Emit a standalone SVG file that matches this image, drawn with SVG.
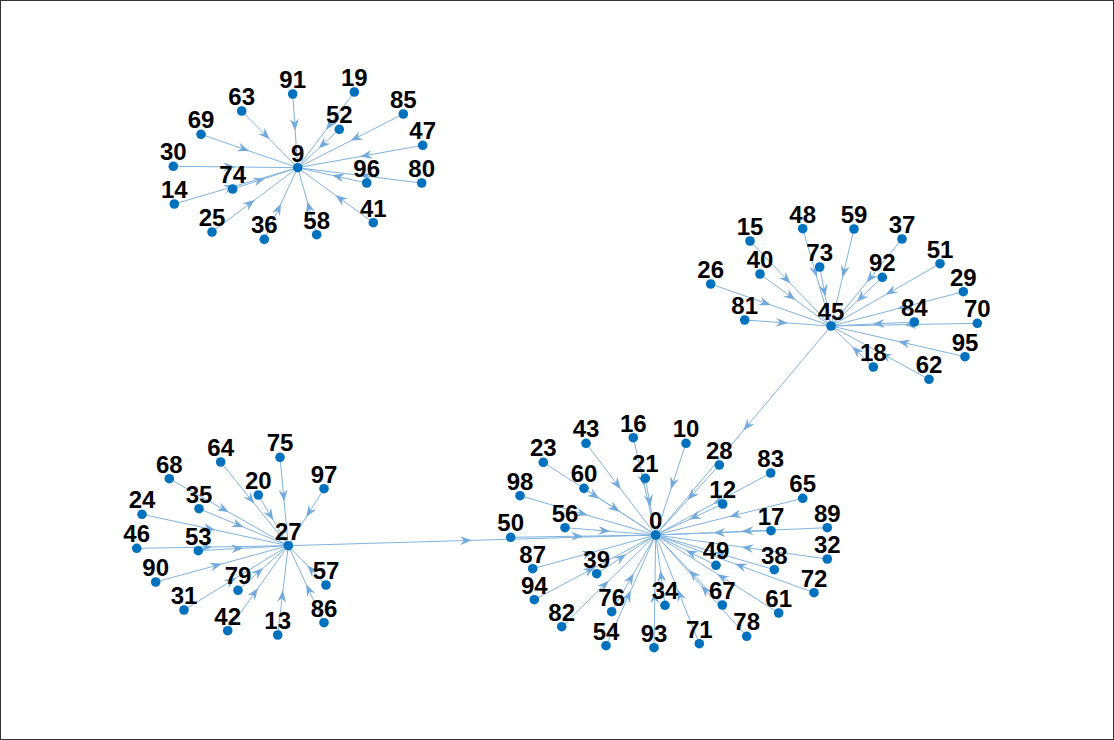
<svg xmlns="http://www.w3.org/2000/svg" width="1114" height="740" viewBox="0 0 1114 740">
<style>
.e{fill:none;stroke:#80B3DF;stroke-width:1;marker-mid:url(#ah)}
.n circle{fill:#0072BD}
.n text{font-family:"Liberation Sans",Arial,sans-serif;font-weight:bold;font-size:24px;text-anchor:middle;fill:#000}
</style>
<defs>
<marker id="ah" markerUnits="userSpaceOnUse" viewBox="-13 -6 14 12" refX="0" refY="0" markerWidth="14" markerHeight="12" orient="auto" overflow="visible">
<path d="M0,0 L-12,-4.5 L-8,0 L-12,4.5 Z" fill="#72AADB"/>
</marker>
</defs>
<rect x="0.5" y="0.5" width="1113" height="739" fill="#fff" stroke="#333" stroke-width="1"/>
<g id="edges">
<path class="e" d="M292.7,94 L295.2,130.85 L297.7,167.7"/>
<path class="e" d="M354.3,92 L326,129.85 L297.7,167.7"/>
<path class="e" d="M241.7,111 L269.7,139.35 L297.7,167.7"/>
<path class="e" d="M339.3,129.3 L318.5,148.5 L297.7,167.7"/>
<path class="e" d="M403.3,114 L350.5,140.85 L297.7,167.7"/>
<path class="e" d="M201,134.3 L249.35,151 L297.7,167.7"/>
<path class="e" d="M422.7,145.3 L360.2,156.5 L297.7,167.7"/>
<path class="e" d="M173.3,166.3 L235.5,167 L297.7,167.7"/>
<path class="e" d="M366.7,183 L332.2,175.35 L297.7,167.7"/>
<path class="e" d="M421.7,183 L359.7,175.35 L297.7,167.7"/>
<path class="e" d="M232.7,189 L265.2,178.35 L297.7,167.7"/>
<path class="e" d="M174.3,204 L236,185.85 L297.7,167.7"/>
<path class="e" d="M373.3,222.7 L335.5,195.2 L297.7,167.7"/>
<path class="e" d="M212,232 L254.85,199.85 L297.7,167.7"/>
<path class="e" d="M264.3,239.3 L281,203.5 L297.7,167.7"/>
<path class="e" d="M316.7,234.7 L307.2,201.2 L297.7,167.7"/>

<path class="e" d="M750,241 L790.5,283.5 L831,326"/>
<path class="e" d="M802.7,228.7 L816.85,277.35 L831,326"/>
<path class="e" d="M854,229 L842.5,277.5 L831,326"/>
<path class="e" d="M902,239 L866.5,282.5 L831,326"/>
<path class="e" d="M760,274 L795.5,300 L831,326"/>
<path class="e" d="M819.7,267 L825.35,296.5 L831,326"/>
<path class="e" d="M882.3,277.3 L856.65,301.65 L831,326"/>
<path class="e" d="M940,263.7 L885.5,294.85 L831,326"/>
<path class="e" d="M710.7,284 L770.85,305 L831,326"/>
<path class="e" d="M963.3,291.7 L897.15,308.85 L831,326"/>
<path class="e" d="M744.7,320 L787.85,323 L831,326"/>
<path class="e" d="M914.3,322 L872.65,324 L831,326"/>
<path class="e" d="M977.3,323.3 L904.15,324.65 L831,326"/>
<path class="e" d="M965,356.7 L898,341.35 L831,326"/>
<path class="e" d="M873.3,367 L852.15,346.5 L831,326"/>
<path class="e" d="M929,379.3 L880,352.65 L831,326"/>

<path class="e" d="M280,457.3 L284.15,501.5 L288.3,545.7"/>
<path class="e" d="M220.7,462 L254.5,503.85 L288.3,545.7"/>
<path class="e" d="M169.3,478.7 L228.8,512.2 L288.3,545.7"/>
<path class="e" d="M324,488.7 L306.15,517.2 L288.3,545.7"/>
<path class="e" d="M258.3,495 L273.3,520.35 L288.3,545.7"/>
<path class="e" d="M199,508.7 L243.65,527.2 L288.3,545.7"/>
<path class="e" d="M142,514.3 L215.15,530 L288.3,545.7"/>
<path class="e" d="M136.7,548.3 L212.5,547 L288.3,545.7"/>
<path class="e" d="M198.3,550.7 L243.3,548.2 L288.3,545.7"/>
<path class="e" d="M155.7,582 L222,563.85 L288.3,545.7"/>
<path class="e" d="M238,590.3 L263.15,568 L288.3,545.7"/>
<path class="e" d="M326,585 L307.15,565.35 L288.3,545.7"/>
<path class="e" d="M184,610 L236.15,577.85 L288.3,545.7"/>
<path class="e" d="M227.7,630.7 L258,588.2 L288.3,545.7"/>
<path class="e" d="M277.7,635 L283,590.35 L288.3,545.7"/>
<path class="e" d="M324,622.7 L306.15,584.2 L288.3,545.7"/>

<path class="e" d="M586,443.3 L620.85,489.15 L655.7,535"/>
<path class="e" d="M633.3,437.7 L644.5,486.35 L655.7,535"/>
<path class="e" d="M686,443.3 L670.85,489.15 L655.7,535"/>
<path class="e" d="M543.3,462.3 L599.5,498.65 L655.7,535"/>
<path class="e" d="M719.3,465 L687.5,500 L655.7,535"/>
<path class="e" d="M770.7,473 L713.2,504 L655.7,535"/>
<path class="e" d="M645.3,478.3 L650.5,506.65 L655.7,535"/>
<path class="e" d="M584,488.3 L619.85,511.65 L655.7,535"/>
<path class="e" d="M520,495.7 L587.85,515.35 L655.7,535"/>
<path class="e" d="M802.7,498.3 L729.2,516.65 L655.7,535"/>
<path class="e" d="M722.7,504 L689.2,519.5 L655.7,535"/>
<path class="e" d="M565,527.7 L610.35,531.35 L655.7,535"/>
<path class="e" d="M771,530.7 L713.35,532.85 L655.7,535"/>
<path class="e" d="M827.3,527.7 L741.5,531.35 L655.7,535"/>
<path class="e" d="M510.7,537.3 L583.2,536.15 L655.7,535"/>
<path class="e" d="M827.3,559 L741.5,547 L655.7,535"/>
<path class="e" d="M716,565.3 L685.85,550.15 L655.7,535"/>
<path class="e" d="M774.3,569.7 L715,552.35 L655.7,535"/>
<path class="e" d="M532.7,568.7 L594.2,551.85 L655.7,535"/>
<path class="e" d="M596.7,573.7 L626.2,554.35 L655.7,535"/>
<path class="e" d="M814,592.7 L734.85,563.85 L655.7,535"/>
<path class="e" d="M534.3,599.7 L595,567.35 L655.7,535"/>
<path class="e" d="M665,605.3 L660.35,570.15 L655.7,535"/>
<path class="e" d="M722.3,605 L689,570 L655.7,535"/>
<path class="e" d="M611.7,611.7 L633.7,573.35 L655.7,535"/>
<path class="e" d="M778.7,613 L717.2,574 L655.7,535"/>
<path class="e" d="M561.7,626.7 L608.7,580.85 L655.7,535"/>
<path class="e" d="M746.7,636.3 L701.2,585.65 L655.7,535"/>
<path class="e" d="M606,645.7 L630.85,590.35 L655.7,535"/>
<path class="e" d="M654,647.7 L654.85,591.35 L655.7,535"/>
<path class="e" d="M699.3,643.7 L677.5,589.35 L655.7,535"/>
<path class="e" d="M831,326 L743.35,430.5 L655.7,535"/>
<path class="e" d="M288.3,545.7 L472,540.35 L655.7,535"/>
</g>
<g id="nodes">
<g class="n" id="n9"><circle cx="297.7" cy="167.7" r="4.8"/><text x="297.7" y="161.5">9</text></g>
<g class="n" id="n91"><circle cx="292.7" cy="94" r="4.8"/><text x="292.7" y="87.8">91</text></g>
<g class="n" id="n19"><circle cx="354.3" cy="92" r="4.8"/><text x="354.3" y="85.8">19</text></g>
<g class="n" id="n63"><circle cx="241.7" cy="111" r="4.8"/><text x="241.7" y="104.8">63</text></g>
<g class="n" id="n52"><circle cx="339.3" cy="129.3" r="4.8"/><text x="339.3" y="123.1">52</text></g>
<g class="n" id="n85"><circle cx="403.3" cy="114" r="4.8"/><text x="403.3" y="107.8">85</text></g>
<g class="n" id="n69"><circle cx="201" cy="134.3" r="4.8"/><text x="201" y="128.1">69</text></g>
<g class="n" id="n47"><circle cx="422.7" cy="145.3" r="4.8"/><text x="422.7" y="139.1">47</text></g>
<g class="n" id="n30"><circle cx="173.3" cy="166.3" r="4.8"/><text x="173.3" y="160.1">30</text></g>
<g class="n" id="n96"><circle cx="366.7" cy="183" r="4.8"/><text x="366.7" y="176.8">96</text></g>
<g class="n" id="n80"><circle cx="421.7" cy="183" r="4.8"/><text x="421.7" y="176.8">80</text></g>
<g class="n" id="n74"><circle cx="232.7" cy="189" r="4.8"/><text x="232.7" y="182.8">74</text></g>
<g class="n" id="n14"><circle cx="174.3" cy="204" r="4.8"/><text x="174.3" y="197.8">14</text></g>
<g class="n" id="n41"><circle cx="373.3" cy="222.7" r="4.8"/><text x="373.3" y="216.5">41</text></g>
<g class="n" id="n25"><circle cx="212" cy="232" r="4.8"/><text x="212" y="225.8">25</text></g>
<g class="n" id="n36"><circle cx="264.3" cy="239.3" r="4.8"/><text x="264.3" y="233.1">36</text></g>
<g class="n" id="n58"><circle cx="316.7" cy="234.7" r="4.8"/><text x="316.7" y="228.5">58</text></g>

<g class="n" id="n45"><circle cx="831" cy="326" r="4.8"/><text x="831" y="319.8">45</text></g>
<g class="n" id="n15"><circle cx="750" cy="241" r="4.8"/><text x="750" y="234.8">15</text></g>
<g class="n" id="n48"><circle cx="802.7" cy="228.7" r="4.8"/><text x="802.7" y="222.5">48</text></g>
<g class="n" id="n59"><circle cx="854" cy="229" r="4.8"/><text x="854" y="222.8">59</text></g>
<g class="n" id="n37"><circle cx="902" cy="239" r="4.8"/><text x="902" y="232.8">37</text></g>
<g class="n" id="n40"><circle cx="760" cy="274" r="4.8"/><text x="760" y="267.8">40</text></g>
<g class="n" id="n73"><circle cx="819.7" cy="267" r="4.8"/><text x="819.7" y="260.8">73</text></g>
<g class="n" id="n92"><circle cx="882.3" cy="277.3" r="4.8"/><text x="882.3" y="271.1">92</text></g>
<g class="n" id="n51"><circle cx="940" cy="263.7" r="4.8"/><text x="940" y="257.5">51</text></g>
<g class="n" id="n26"><circle cx="710.7" cy="284" r="4.8"/><text x="710.7" y="277.8">26</text></g>
<g class="n" id="n29"><circle cx="963.3" cy="291.7" r="4.8"/><text x="963.3" y="285.5">29</text></g>
<g class="n" id="n81"><circle cx="744.7" cy="320" r="4.8"/><text x="744.7" y="313.8">81</text></g>
<g class="n" id="n84"><circle cx="914.3" cy="322" r="4.8"/><text x="914.3" y="315.8">84</text></g>
<g class="n" id="n70"><circle cx="977.3" cy="323.3" r="4.8"/><text x="977.3" y="317.1">70</text></g>
<g class="n" id="n95"><circle cx="965" cy="356.7" r="4.8"/><text x="965" y="350.5">95</text></g>
<g class="n" id="n18"><circle cx="873.3" cy="367" r="4.8"/><text x="873.3" y="360.8">18</text></g>
<g class="n" id="n62"><circle cx="929" cy="379.3" r="4.8"/><text x="929" y="373.1">62</text></g>

<g class="n" id="n27"><circle cx="288.3" cy="545.7" r="4.8"/><text x="288.3" y="539.5">27</text></g>
<g class="n" id="n75"><circle cx="280" cy="457.3" r="4.8"/><text x="280" y="451.1">75</text></g>
<g class="n" id="n64"><circle cx="220.7" cy="462" r="4.8"/><text x="220.7" y="455.8">64</text></g>
<g class="n" id="n68"><circle cx="169.3" cy="478.7" r="4.8"/><text x="169.3" y="472.5">68</text></g>
<g class="n" id="n97"><circle cx="324" cy="488.7" r="4.8"/><text x="324" y="482.5">97</text></g>
<g class="n" id="n20"><circle cx="258.3" cy="495" r="4.8"/><text x="258.3" y="488.8">20</text></g>
<g class="n" id="n35"><circle cx="199" cy="508.7" r="4.8"/><text x="199" y="502.5">35</text></g>
<g class="n" id="n24"><circle cx="142" cy="514.3" r="4.8"/><text x="142" y="508.1">24</text></g>
<g class="n" id="n46"><circle cx="136.7" cy="548.3" r="4.8"/><text x="136.7" y="542.1">46</text></g>
<g class="n" id="n53"><circle cx="198.3" cy="550.7" r="4.8"/><text x="198.3" y="544.5">53</text></g>
<g class="n" id="n90"><circle cx="155.7" cy="582" r="4.8"/><text x="155.7" y="575.8">90</text></g>
<g class="n" id="n79"><circle cx="238" cy="590.3" r="4.8"/><text x="238" y="584.1">79</text></g>
<g class="n" id="n57"><circle cx="326" cy="585" r="4.8"/><text x="326" y="578.8">57</text></g>
<g class="n" id="n31"><circle cx="184" cy="610" r="4.8"/><text x="184" y="603.8">31</text></g>
<g class="n" id="n42"><circle cx="227.7" cy="630.7" r="4.8"/><text x="227.7" y="624.5">42</text></g>
<g class="n" id="n13"><circle cx="277.7" cy="635" r="4.8"/><text x="277.7" y="628.8">13</text></g>
<g class="n" id="n86"><circle cx="324" cy="622.7" r="4.8"/><text x="324" y="616.5">86</text></g>

<g class="n" id="n0"><circle cx="655.7" cy="535" r="4.8"/><text x="655.7" y="528.8">0</text></g>
<g class="n" id="n43"><circle cx="586" cy="443.3" r="4.8"/><text x="586" y="437.1">43</text></g>
<g class="n" id="n16"><circle cx="633.3" cy="437.7" r="4.8"/><text x="633.3" y="431.5">16</text></g>
<g class="n" id="n10"><circle cx="686" cy="443.3" r="4.8"/><text x="686" y="437.1">10</text></g>
<g class="n" id="n23"><circle cx="543.3" cy="462.3" r="4.8"/><text x="543.3" y="456.1">23</text></g>
<g class="n" id="n28"><circle cx="719.3" cy="465" r="4.8"/><text x="719.3" y="458.8">28</text></g>
<g class="n" id="n83"><circle cx="770.7" cy="473" r="4.8"/><text x="770.7" y="466.8">83</text></g>
<g class="n" id="n21"><circle cx="645.3" cy="478.3" r="4.8"/><text x="645.3" y="472.1">21</text></g>
<g class="n" id="n60"><circle cx="584" cy="488.3" r="4.8"/><text x="584" y="482.1">60</text></g>
<g class="n" id="n98"><circle cx="520" cy="495.7" r="4.8"/><text x="520" y="489.5">98</text></g>
<g class="n" id="n65"><circle cx="802.7" cy="498.3" r="4.8"/><text x="802.7" y="492.1">65</text></g>
<g class="n" id="n12"><circle cx="722.7" cy="504" r="4.8"/><text x="722.7" y="497.8">12</text></g>
<g class="n" id="n56"><circle cx="565" cy="527.7" r="4.8"/><text x="565" y="521.5">56</text></g>
<g class="n" id="n17"><circle cx="771" cy="530.7" r="4.8"/><text x="771" y="524.5">17</text></g>
<g class="n" id="n89"><circle cx="827.3" cy="527.7" r="4.8"/><text x="827.3" y="521.5">89</text></g>
<g class="n" id="n50"><circle cx="510.7" cy="537.3" r="4.8"/><text x="510.7" y="531.1">50</text></g>
<g class="n" id="n32"><circle cx="827.3" cy="559" r="4.8"/><text x="827.3" y="552.8">32</text></g>
<g class="n" id="n49"><circle cx="716" cy="565.3" r="4.8"/><text x="716" y="559.1">49</text></g>
<g class="n" id="n38"><circle cx="774.3" cy="569.7" r="4.8"/><text x="774.3" y="563.5">38</text></g>
<g class="n" id="n87"><circle cx="532.7" cy="568.7" r="4.8"/><text x="532.7" y="562.5">87</text></g>
<g class="n" id="n39"><circle cx="596.7" cy="573.7" r="4.8"/><text x="596.7" y="567.5">39</text></g>
<g class="n" id="n72"><circle cx="814" cy="592.7" r="4.8"/><text x="814" y="586.5">72</text></g>
<g class="n" id="n94"><circle cx="534.3" cy="599.7" r="4.8"/><text x="534.3" y="593.5">94</text></g>
<g class="n" id="n34"><circle cx="665" cy="605.3" r="4.8"/><text x="665" y="599.1">34</text></g>
<g class="n" id="n67"><circle cx="722.3" cy="605" r="4.8"/><text x="722.3" y="598.8">67</text></g>
<g class="n" id="n76"><circle cx="611.7" cy="611.7" r="4.8"/><text x="611.7" y="605.5">76</text></g>
<g class="n" id="n61"><circle cx="778.7" cy="613" r="4.8"/><text x="778.7" y="606.8">61</text></g>
<g class="n" id="n82"><circle cx="561.7" cy="626.7" r="4.8"/><text x="561.7" y="620.5">82</text></g>
<g class="n" id="n78"><circle cx="746.7" cy="636.3" r="4.8"/><text x="746.7" y="630.1">78</text></g>
<g class="n" id="n54"><circle cx="606" cy="645.7" r="4.8"/><text x="606" y="639.5">54</text></g>
<g class="n" id="n93"><circle cx="654" cy="647.7" r="4.8"/><text x="654" y="641.5">93</text></g>
<g class="n" id="n71"><circle cx="699.3" cy="643.7" r="4.8"/><text x="699.3" y="637.5">71</text></g>
</g>
</svg>
